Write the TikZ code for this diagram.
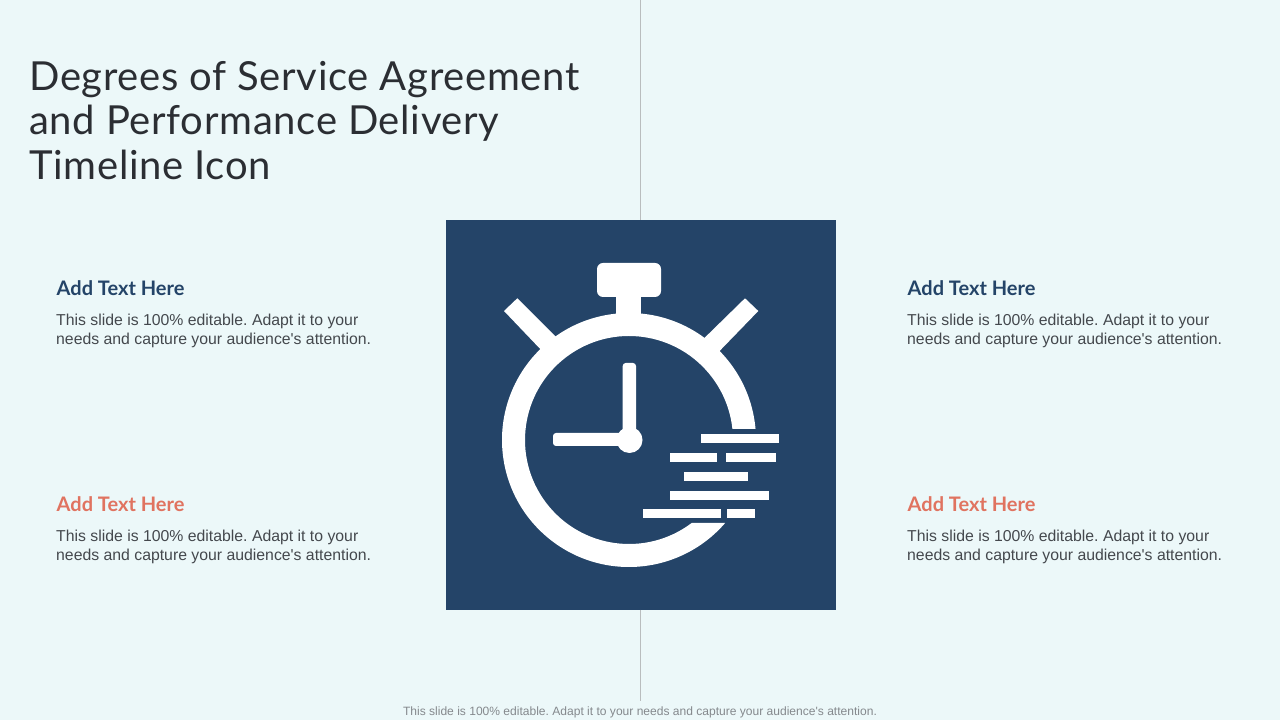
\documentclass[tikz,border=0pt]{standalone}
\usepackage{fontspec}
\usetikzlibrary{calc}
\setmainfont{Liberation Sans}
\newfontfamily\headfont{Lato}
\newfontfamily\titlefont[LetterSpace=1.7]{Lato}
\definecolor{slidebg}{HTML}{ECF8F9}
\definecolor{navy}{HTML}{244468}
\definecolor{coral}{HTML}{E07360}
\definecolor{inkdark}{HTML}{2B2E33}
\definecolor{inkbody}{HTML}{44484D}
\definecolor{inkfoot}{HTML}{85898D}
\definecolor{rulegray}{HTML}{B9BDBE}
\tikzset{
  titletext/.style={anchor=north west,inner sep=0pt,align=left,text=inkdark,font=\titlefont\fontsize{40}{44.5}\selectfont},
  headtext/.style={anchor=west,inner sep=0pt,font=\headfont\bfseries\fontsize{20}{22}\selectfont},
  bodytext/.style={anchor=north west,inner sep=0pt,align=left,text=inkbody,font=\frenchspacing\fontsize{15.8}{19}\selectfont},
}
\begin{document}
\begin{tikzpicture}[x=1pt,y=1pt]
\useasboundingbox (0,0) rectangle (1280,720);
\fill[slidebg] (0,0) rectangle (1280,720);
\coordinate (ruletop) at (640.5,720);
\coordinate (rulebot) at (640.5,19);
\node[fill=navy,minimum size=390pt,inner sep=0pt,outer sep=0pt] (panel) at (641,305) {};
\draw[rulegray,line width=1pt] (panel.north -| ruletop) -- (ruletop);
\draw[rulegray,line width=1pt] (panel.south -| rulebot) -- (rulebot);
% title
\node[titletext] (title) at (29,659) {Degrees of Service Agreement\\and Performance Delivery\\Timeline Icon};
% text blocks
\foreach \x/\y/\c/\n in {56.5/432/navy/a,907.5/432/navy/b,56.5/216/coral/c,907.5/216/coral/d}{
\node[headtext,text=\c] (head\n) at (\x,\y) {Add Text Here};
\node[bodytext] (body\n) at (\x-0.5,\y-26) {This slide is 100\% editable. Adapt it to your\\needs and capture your audience\textquotesingle s attention.};
}
\node[anchor=south,inner sep=0pt,text=inkfoot,font=\frenchspacing\fontsize{12.05}{14}\selectfont] (foot) at (640,2) {This slide is 100\% editable. Adapt it to your needs and capture your audience\textquotesingle s attention.};
% stopwatch
\coordinate (clock) at (629,280);
\fill[white] (clock) ++(5:127) arc[start angle=5,end angle=319.2,radius=127]
  -- ($(clock)+(307.1:104)$) arc[start angle=307.1,end angle=6.07,radius=104] -- cycle;
\fill[white,rounded corners=6pt] (597,457) rectangle (661,423);
\fill[white] (616,425) rectangle (641,400);
\fill[white] (504,409) -- (517.3,421.7) -- (560,379) -- (545,366) -- cycle;
\fill[white] (745,421.7) -- (758.3,409) -- (715.7,365) -- (700,377.7) -- cycle;
% hands
\fill[white,rounded corners=3pt] (622.7,357) rectangle (636,275);
\fill[white,rounded corners=3pt] (553,287) rectangle (630,274);
\fill[white] (629.5,280) circle (13);
% speed bars
\foreach \a/\b/\t in {701.3/779/434,670/716.7/452.7,726.3/776/452.7,684/747.7/472,670/769/490.7,643/720.7/509.3,726.7/755.3/509.3}{
\fill[white] (\a,720-\t) rectangle (\b,720-\t-9);
}
\end{tikzpicture}
\end{document}
